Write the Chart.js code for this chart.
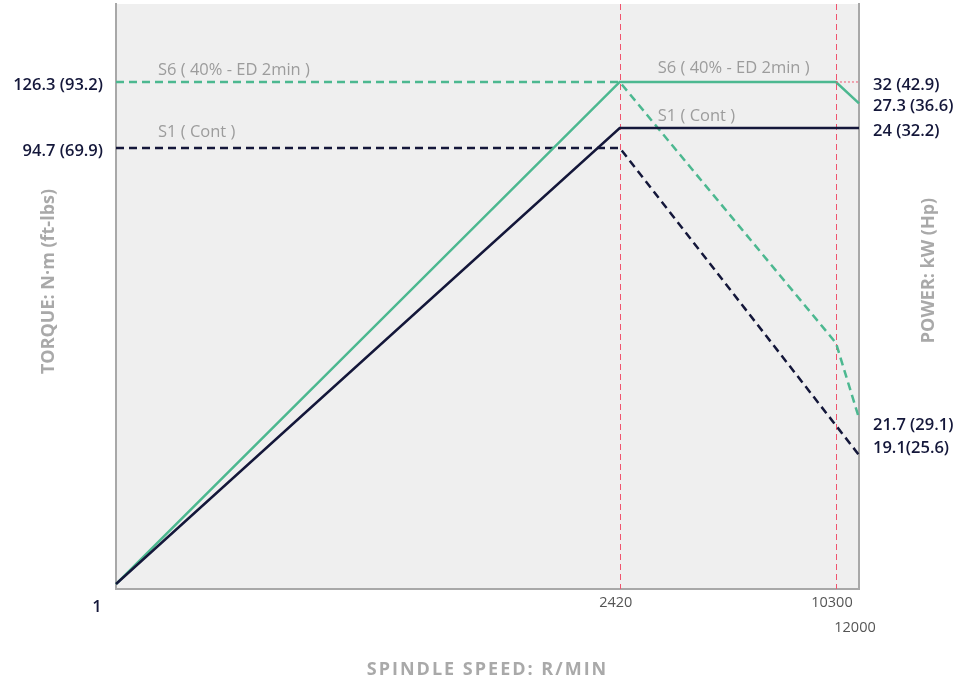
<!DOCTYPE html>
<html lang="en">
<head>
<meta charset="UTF-8">
<title>Spindle power / torque</title>
<script src="https://cdn.jsdelivr.net/npm/chart.js"></script>
<style>
  html, body { margin: 0; padding: 0; background: #fff; }
  #wrap { width: 974px; height: 685px; position: relative; }
</style>
</head>
<body>
<div id="wrap"><canvas id="spindleChart"></canvas></div>
<script>
// spindle speed break points, r/min
const rpm = [1, 2420, 10300, 12000];
const rpmTickLabels = ['1', '2420', '10300', ['', '12000']];

// power, kW
const s6Power = [0, 32, 32, 27.3];
const s1Power = [0, 24, 24, 24];
// torque, N·m (S1 has no corner at 10300)
const s6Torque = [126.3, 126.3, 29.7, 21.7];
const s1Torque = [94.7, 94.7, null, 19.1];

const torqueTicks = [126.3, 94.7];
const torqueTickLabels = ['126.3 (93.2)', '94.7 (69.9)'];
const powerTicks = [32, 27.3, 24];
const powerTickLabels = ['32 (42.9)', '27.3 (36.6)', '24 (32.2)'];
const torqueEndLabels = ['21.7 (29.1)', '19.1(25.6)'];
const seriesNames = ['S6 ( 40% - ED 2min )', 'S1 ( Cont )'];

const GREEN = '#4cb890';
const NAVY = '#14173a';
const RED = '#f0546e';
const TITLE_GREY = '#a9a9a9';

// the drawing is schematic, so every axis is stretched piecewise
// [value, fraction of axis length]
const stops = {
  x:  [[1, 0], [2420, 0.678], [10300, 0.969], [12000, 1]],
  yT: [[19.1, 0.229], [21.7, 0.292], [29.7, 0.4205], [94.7, 0.754], [126.3, 0.8667]],
  yP: [[0, 0.0085], [24, 0.788], [27.3, 0.83], [32, 0.8667]]
};

class SchematicScale extends Chart.LinearScale {
  getPixelForValue(v) {
    if (v === null || v === undefined || isNaN(v)) return NaN;
    const s = stops[this.id];
    let i = 1;
    while (i < s.length - 1 && v > s[i][0]) i++;
    const a = s[i - 1], b = s[i];
    return this.getPixelForDecimal(a[1] + (v - a[0]) * (b[1] - a[1]) / (b[0] - a[0]));
  }
  getValueForPixel(p) {
    const d = this.getDecimalForPixel(p);
    const s = stops[this.id];
    let i = 1;
    while (i < s.length - 1 && d > s[i][1]) i++;
    const a = s[i - 1], b = s[i];
    return a[0] + (d - a[1]) * (b[0] - a[0]) / (b[1] - a[1]);
  }
}
SchematicScale.id = 'schematic';
SchematicScale.defaults = {};
Chart.register(SchematicScale);

const pts = ys => rpm.map((x, i) => ({x: x, y: ys[i]})).filter(p => p.y !== null);

const notes = [
  {text: seriesNames[0], x: rpm[0], axis: 'yT', y: s6Torque[0], dx: 42, dy: -12},
  {text: seriesNames[1], x: rpm[0], axis: 'yT', y: s1Torque[0], dx: 42, dy: -16},
  {text: seriesNames[0], x: rpm[1], axis: 'yP', y: s6Power[1], dx: 38, dy: -14},
  {text: seriesNames[1], x: rpm[1], axis: 'yP', y: s1Power[1], dx: 38, dy: -12}
];

const decor = {
  id: 'decor',
  beforeDraw(chart) {
    const {ctx, chartArea: a} = chart;
    ctx.save();
    ctx.fillStyle = '#efefef';
    ctx.fillRect(a.left, a.top, a.right - a.left, a.bottom - a.top);
    ctx.restore();
  },
  beforeDatasetsDraw(chart) {
    // base speed and max-power speed markers
    const {ctx, chartArea: a, scales} = chart;
    ctx.save();
    ctx.strokeStyle = RED;
    ctx.lineWidth = 1;
    ctx.setLineDash([6, 4]);
    [rpm[1], rpm[2]].forEach(v => {
      const x = Math.round(scales.x.getPixelForValue(v)) + 0.5;
      ctx.beginPath();
      ctx.moveTo(x, a.top);
      ctx.lineTo(x, a.bottom);
      ctx.stroke();
    });
    ctx.restore();
  },
  afterDraw(chart) {
    const {ctx, chartArea: a, scales} = chart;
    ctx.save();
    ctx.textBaseline = 'middle';

    // series names
    ctx.font = '500 16.5px "Open Sans"';
    ctx.fillStyle = '#9c9c9c';
    ctx.textAlign = 'left';
    notes.forEach(n => {
      ctx.fillText(n.text, scales.x.getPixelForValue(n.x) + n.dx, scales[n.axis].getPixelForValue(n.y) + n.dy);
    });

    // torque values at max speed
    ctx.font = '600 16.5px "Open Sans"';
    ctx.fillStyle = NAVY;
    const last = rpm.length - 1;
    ctx.fillText(torqueEndLabels[0], a.right + 14, scales.yT.getPixelForValue(s6Torque[last]) + 7);
    ctx.fillText(torqueEndLabels[1], a.right + 14, scales.yT.getPixelForValue(s1Torque[last]) - 7);

    // origin speed
    ctx.textAlign = 'center';
    ctx.fillText(rpmTickLabels[0], scales.x.getPixelForValue(rpm[0]) - 19, a.bottom + 18);

    // axis titles
    ctx.font = 'bold 18px "Open Sans"';
    ctx.fillStyle = TITLE_GREY;
    const midY = (a.top + a.bottom) / 2;
    ctx.save();
    ctx.translate(a.left - 67, midY - 15);
    ctx.rotate(-Math.PI / 2);
    ctx.fillText('TORQUE: N·m (ft-lbs)', 0, 0);
    ctx.restore();
    ctx.save();
    ctx.translate(a.right + 70, midY - 26);
    ctx.rotate(-Math.PI / 2);
    ctx.fillText('POWER: kW (Hp)', 0, 0);
    ctx.restore();
    ctx.letterSpacing = '2px';
    ctx.fillText('SPINDLE SPEED: R/MIN', (a.left + a.right) / 2, a.bottom + 81);
    ctx.restore();
  }
};

const noPad = s => { s.paddingTop = 0; s.paddingBottom = 0; s.paddingLeft = 0; s.paddingRight = 0; };

const ctx = document.getElementById('spindleChart').getContext('2d');
new Chart(ctx, {
  type: 'line',
  data: {
    datasets: [
      {
        data: [{x: rpm[2], y: s6Power[2]}, {x: rpm[3], y: s6Power[2]}],
        yAxisID: 'yP', borderColor: RED, borderWidth: 1, borderDash: [2, 2]
      },
      {data: pts(s1Power), yAxisID: 'yP', borderColor: NAVY, borderWidth: 2.5},
      {data: pts(s6Power), yAxisID: 'yP', borderColor: GREEN, borderWidth: 2.5},
      {data: pts(s1Torque), yAxisID: 'yT', borderColor: NAVY, borderWidth: 2.5, borderDash: [8, 5], spanGaps: true},
      {data: pts(s6Torque), yAxisID: 'yT', borderColor: GREEN, borderWidth: 2.5, borderDash: [8, 5]}
    ]
  },
  options: {
    responsive: true,
    maintainAspectRatio: false,
    animation: false,
    layout: {padding: {top: 4, left: 0, right: 0, bottom: 0}},
    elements: {point: {radius: 0}, line: {tension: 0, fill: false}},
    datasets: {line: {clip: false}},
    plugins: {legend: {display: false}, tooltip: {enabled: false}},
    scales: {
      x: {
        type: 'schematic',
        afterFit: s => { s.height = 96; noPad(s); },
        afterBuildTicks: s => { s.ticks = rpm.map(v => ({value: v})); },
        grid: {display: false, drawTicks: false},
        border: {display: true, color: '#a8a8a8', width: 2},
        ticks: {
          autoSkip: false, maxRotation: 0, minRotation: 0,
          padding: 2, labelOffset: -4,
          color: '#555',
          font: {family: 'Open Sans', size: 14.5, lineHeight: 1.7},
          callback: (v, i) => i === 0 ? '' : rpmTickLabels[i]
        }
      },
      yT: {
        type: 'schematic',
        position: 'left',
        afterFit: s => { s.width = 116; noPad(s); },
        afterBuildTicks: s => { s.ticks = torqueTicks.map(v => ({value: v})); },
        grid: {drawTicks: false, color: 'rgba(0,0,0,0)'},
        border: {display: true, color: '#a8a8a8', width: 2},
        ticks: {
          padding: 13, labelOffset: 3, color: NAVY,
          font: {family: 'Open Sans', size: 16.5, weight: '600'},
          callback: (v, i) => torqueTickLabels[i]
        }
      },
      yP: {
        type: 'schematic',
        position: 'right',
        afterFit: s => { s.width = 115; noPad(s); },
        afterBuildTicks: s => { s.ticks = powerTicks.map(v => ({value: v})); },
        grid: {drawTicks: false, color: 'rgba(0,0,0,0)'},
        border: {display: true, color: '#a8a8a8', width: 2},
        ticks: {
          padding: 14, labelOffset: 3, color: NAVY,
          font: {family: 'Open Sans', size: 16.5, weight: '600'},
          callback: (v, i) => powerTickLabels[i]
        }
      }
    }
  },
  plugins: [decor]
});
</script>
</body>
</html>
